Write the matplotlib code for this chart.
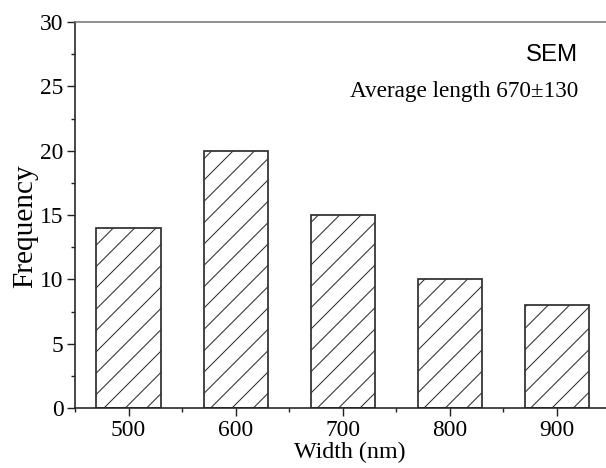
import matplotlib.pyplot as plt
from matplotlib.ticker import MultipleLocator

# width histogram from the SEM images
widths = [500, 600, 700, 800, 900]
counts = [14, 20, 15, 10, 8]

plt.rcParams['font.family'] = ['Liberation Serif', 'DejaVu Serif']
plt.rcParams['hatch.linewidth'] = 0.6
plt.rcParams['hatch.color'] = 'black'

dpi = 128
fig = plt.figure(figsize=(606 / dpi, 468 / dpi), dpi=dpi)
ax = fig.add_axes([75 / 606, 60 / 468, (610.5 - 75) / 606, (408 - 22) / 468])

ax.bar(widths, counts, width=60, color='white', edgecolor='#333333',
       linewidth=1.0, hatch='//')

ax.set_xlim(450, 950)
ax.set_ylim(0, 30)
ax.xaxis.set_major_locator(MultipleLocator(100))
ax.xaxis.set_minor_locator(MultipleLocator(50))
ax.yaxis.set_major_locator(MultipleLocator(5))
ax.yaxis.set_minor_locator(MultipleLocator(2.5))

ax.tick_params(which='major', direction='out', length=4.5, width=0.8,
               labelsize=13.2, pad=2, colors='#222222', labelcolor='black')
ax.tick_params(which='minor', direction='out', length=2.5, width=0.8,
               colors='#222222')
ax.tick_params(axis='y', which='both', right=False)
ax.tick_params(axis='x', which='both', top=False)

for side in ['left', 'bottom']:
    ax.spines[side].set_color('#222222')
    ax.spines[side].set_linewidth(0.9)
ax.spines['top'].set_color('#777777')
ax.spines['top'].set_linewidth(0.9)
ax.spines['right'].set_visible(False)

ax.set_xlabel('Width (nm)', fontsize=13.5)
ax.set_ylabel('Frequency', fontsize=16.5)
ax.xaxis.set_label_coords((350 - 75) / (610.5 - 75), -(452 - 408) / 386,
                          transform=ax.transAxes)
ax.yaxis.set_label_coords(-(75 - 25) / (610.5 - 75), (408 - 226) / 386,
                          transform=ax.transAxes)
ax.xaxis.label.set_va('center')
ax.yaxis.label.set_va('center')

ax.text(578 / 606, 1 - 55 / 468, 'SEM', transform=fig.transFigure,
        ha='right', va='center', fontsize=13.5, family='Liberation Sans')
ax.text(578 / 606, 1 - 92 / 468, 'Average length 670\u00b1130',
        transform=fig.transFigure, ha='right', va='center', fontsize=13)

fig.savefig('out.png', dpi=dpi)
